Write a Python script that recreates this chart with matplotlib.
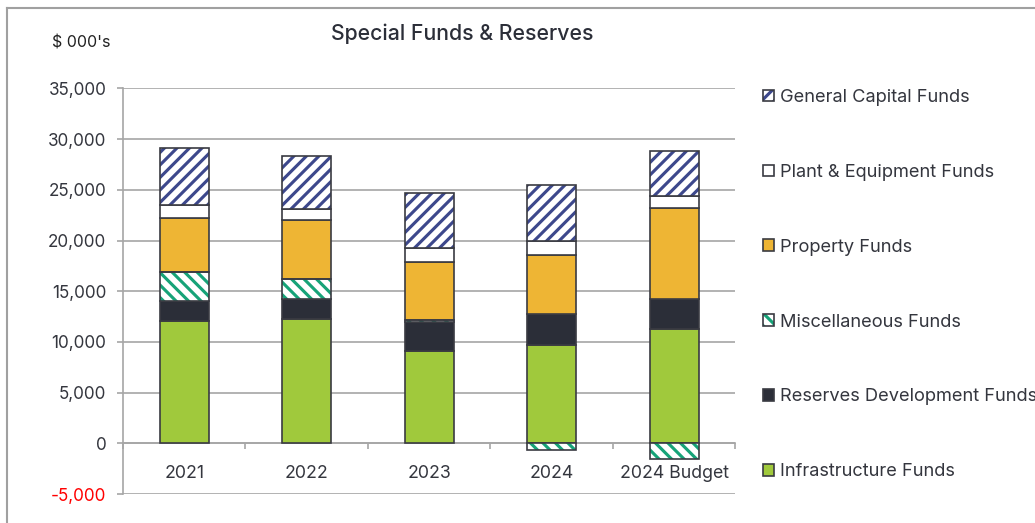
import numpy as np
import matplotlib.pyplot as plt
from matplotlib.patches import Patch
from matplotlib.lines import Line2D
from matplotlib.legend_handler import HandlerTuple

plt.rcParams['font.family'] = ['Inter', 'DejaVu Sans']
plt.rcParams['hatch.linewidth'] = 1.5

years = ['2021', '2022', '2023', '2024', '2024 Budget']

# $ 000's, stacked bottom to top
infrastructure = [12100, 12300, 9150, 9650, 11300]
reserves_dev = [1950, 1950, 2850, 3100, 2950]
miscellaneous = [2850, 2000, 150, -700, -1500]
property_funds = [5350, 5800, 5750, 5850, 9000]
plant_equipment = [1250, 1100, 1350, 1400, 1100]
general_capital = [5650, 5150, 5450, 5500, 4500]

series = [
    ('Infrastructure Funds', infrastructure, '#a0c93c', None, None),
    ('Reserves Development Funds', reserves_dev, '#2b2e38', None, None),
    ('Miscellaneous Funds', miscellaneous, 'white', '\\\\\\\\', '#16a378'),
    ('Property Funds', property_funds, '#eeb534', None, None),
    ('Plant & Equipment Funds', plant_equipment, 'white', None, None),
    ('General Capital Funds', general_capital, 'white', '////', '#3d488c'),
]

edge = '#3a3b42'
text_col = '#34363e'

fig = plt.figure(figsize=(6.9, 3.4867), dpi=150)
ax = fig.add_axes([0.1188, 0.0554, 0.5918, 0.7754])

x = np.arange(len(years))
w = 0.4
pos_bottom = np.zeros(len(years))
neg_bottom = np.zeros(len(years))
handles = []
for name, vals, fc, hatch, hc in series:
    vals = np.array(vals, dtype=float)
    bottom = np.where(vals >= 0, pos_bottom, neg_bottom)
    if hatch:
        ax.bar(x, vals, w, bottom=bottom, color=fc, hatch=hatch,
               edgecolor=hc, linewidth=0, zorder=3)
        ax.bar(x, vals, w, bottom=bottom, fill=False, edgecolor=edge,
               linewidth=0.8, zorder=4)
        h = (Patch(facecolor=fc, hatch=hatch, edgecolor=hc, linewidth=0),
             Patch(fill=False, edgecolor=edge, linewidth=0.8))
    else:
        ax.bar(x, vals, w, bottom=bottom, color=fc, edgecolor=edge,
               linewidth=0.8, zorder=3)
        h = Patch(facecolor=fc, edgecolor=edge, linewidth=0.8)
    handles.append((h, name))
    pos_bottom += np.where(vals >= 0, vals, 0)
    neg_bottom += np.where(vals < 0, vals, 0)

ax.set_xlim(-0.5, 4.5)
ax.set_ylim(-5000, 35000)
yt = np.arange(-5000, 35001, 5000)
ax.set_yticks(yt)
ax.set_yticklabels([f'{v:,}' for v in yt])
for lab in ax.get_yticklabels():
    lab.set_color('red' if lab.get_text().startswith('-') else text_col)
ax.yaxis.grid(True, color='#a6a6a6', linewidth=0.8, zorder=0)
ax.set_axisbelow(True)
ax.tick_params(axis='y', length=3, color='#a6a6a6', labelsize=8.2, pad=5)

# category axis sits on zero
ax.spines['bottom'].set_position(('data', 0))
ax.spines['bottom'].set_color('#a6a6a6')
ax.spines['left'].set_color('#a6a6a6')
ax.spines['top'].set_visible(False)
ax.spines['right'].set_visible(False)
ax.set_xticks(np.arange(-0.5, 5, 1))
ax.set_xticklabels([])
ax.tick_params(axis='x', which='major', length=3, color='#a6a6a6')
ax.set_xticks(x, minor=True)
ax.set_xticklabels(years, minor=True, fontsize=8.5, color=text_col)
ax.tick_params(axis='x', which='minor', length=0, pad=10.5)

fig.text(0.4465, 0.935, 'Special Funds & Reserves', ha='center', va='center',
         fontsize=10.2, fontweight='medium', color='#2b2e38')
fig.text(0.05, 0.918, "$ 000's", ha='left', va='center', fontsize=7.7,
         color='#222222')

hs, ls = zip(*handles[::-1])
fig.legend(hs, ls, loc='upper left', bbox_to_anchor=(0.7305, 0.844),
           frameon=False, fontsize=8.75, labelcolor=text_col,
           handlelength=0.6, handleheight=0.6, handletextpad=0.3,
           labelspacing=3.175, borderaxespad=0,
           handler_map={tuple: HandlerTuple(ndivide=1)})

# outer frame of the chart
fig.add_artist(Line2D([0.0068, 0.0068], [0, 0.9847], color='#a0a0a0', lw=1))
fig.add_artist(Line2D([0.0068, 1], [0.9847, 0.9847], color='#a0a0a0', lw=1))

fig.savefig('out.png', dpi=150)
